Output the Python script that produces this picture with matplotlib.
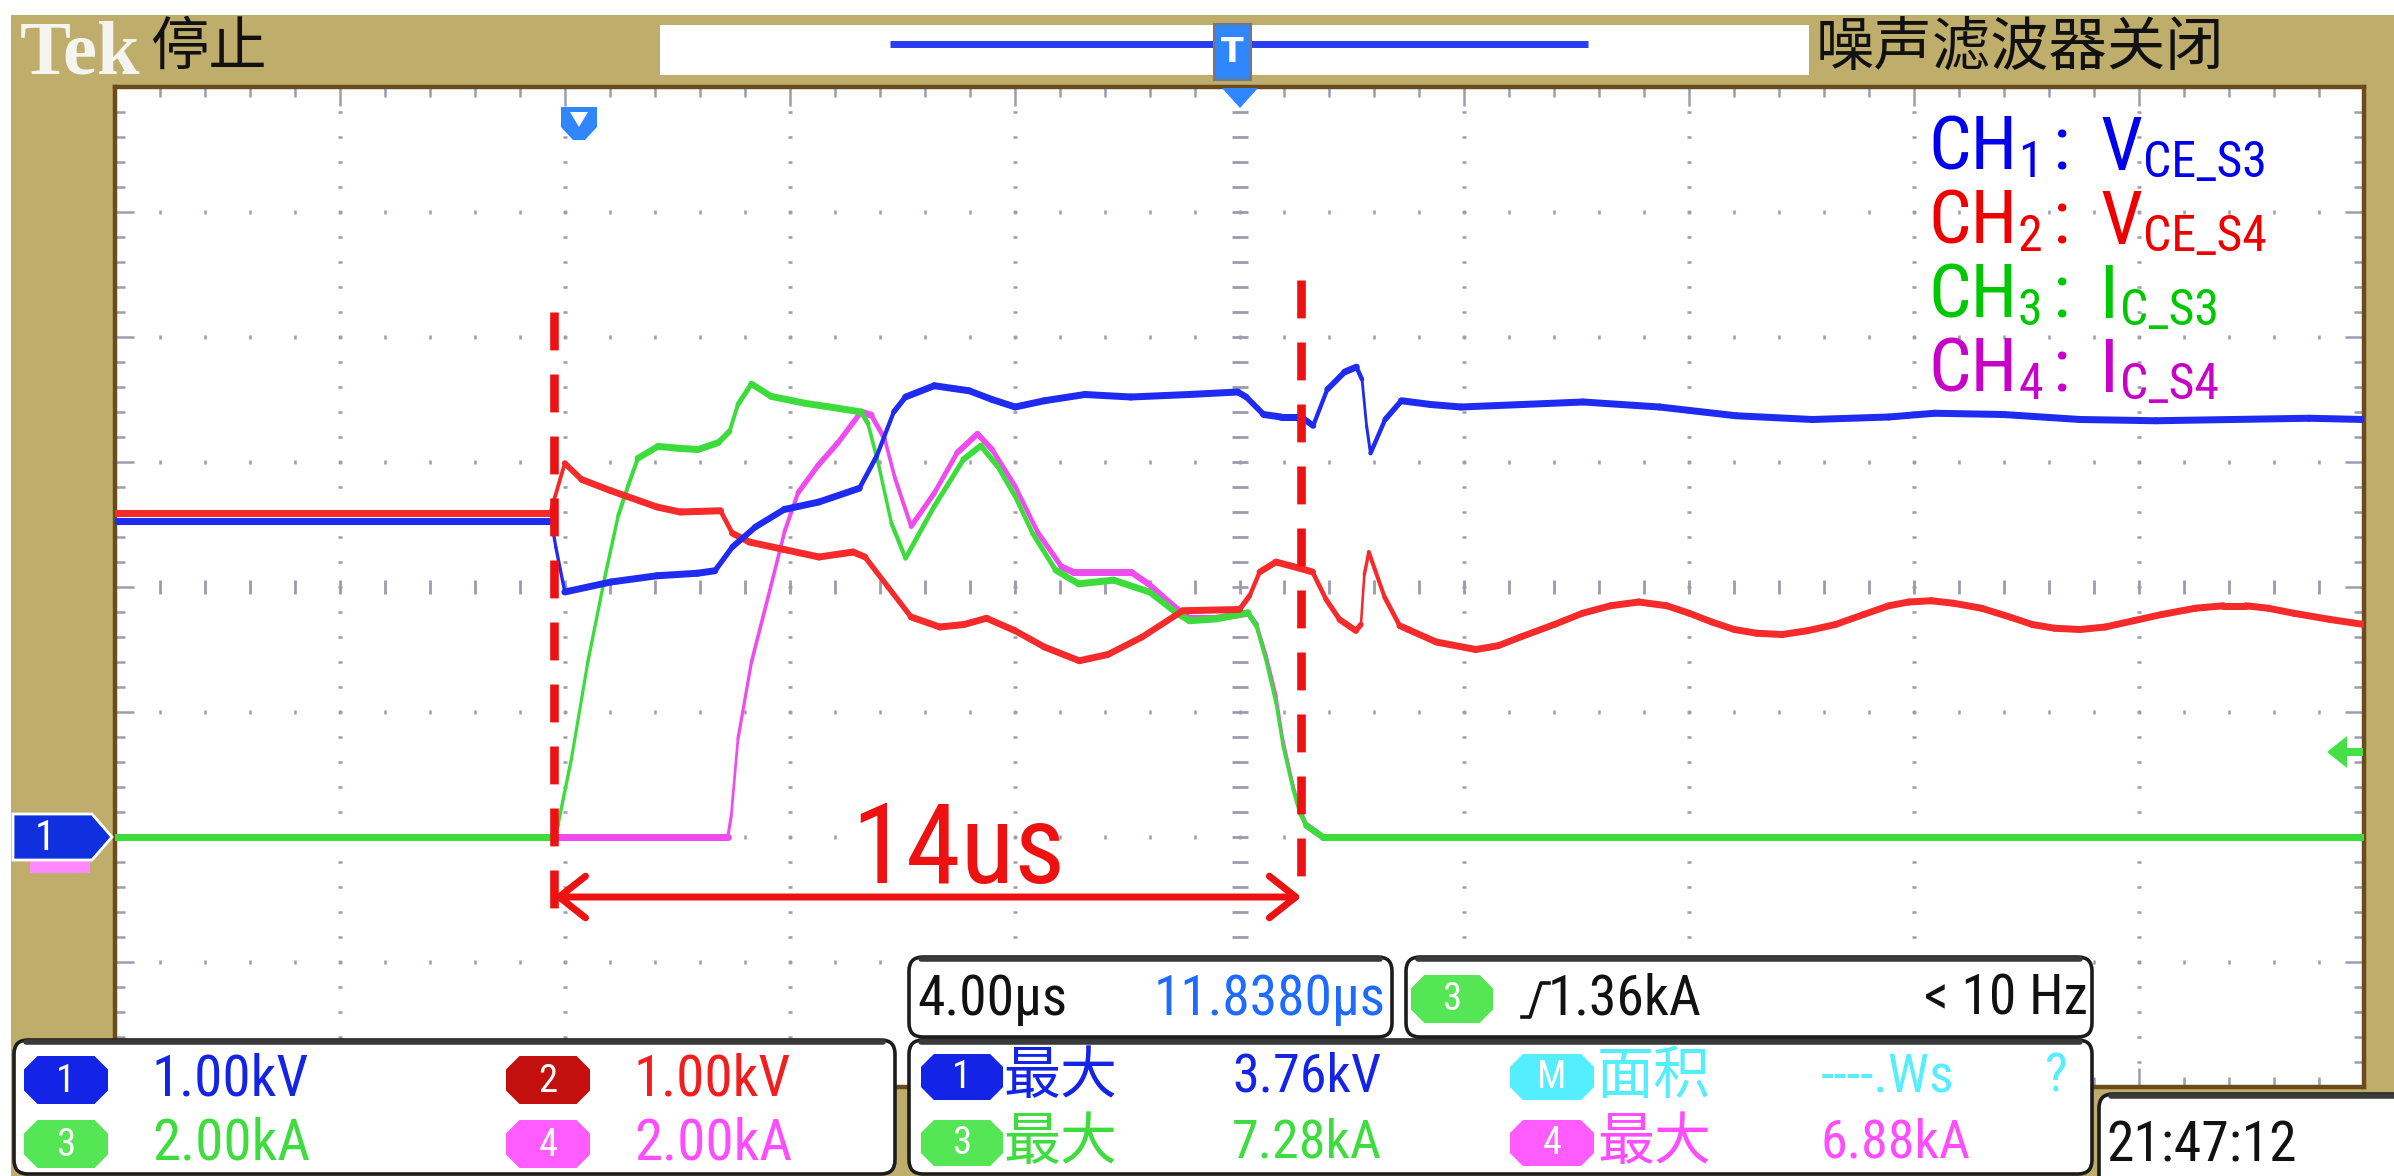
import numpy as np
import matplotlib
matplotlib.use("Agg")
import matplotlib.pyplot as plt
from matplotlib import font_manager as fm
from matplotlib.patches import Rectangle, FancyBboxPatch, Polygon
from matplotlib.collections import LineCollection

# ---------------- data ----------------
time_per_div_us = 4.0
ch_volts_per_div = [1.00, 1.00]      # CH1, CH2 (kV/div)
ch_amps_per_div = [2.00, 2.00]       # CH3, CH4 (kA/div)
ground_div = -2.0                    # ground marker position (div from centre)
trigger_level_ka = 1.36

time_ch1_us = [0.0, 7.76, 7.84, 8.0, 8.82, 9.64, 10.36, 10.67, 10.98, 11.39, 11.90, 12.52, 13.24, 13.55,
               13.85, 14.06, 14.57, 15.19, 15.60, 16.01, 16.53, 17.25, 18.07, 19.10, 19.97, 20.12, 20.43,
               20.74, 21.10, 21.31, 21.56, 21.87, 22.08, 22.18, 22.26, 22.33, 22.59, 22.88, 23.40, 23.94,
               25.03, 26.11, 27.47, 28.83, 30.19, 31.55, 32.36, 33.59, 34.95, 36.30, 37.66, 39.02, 40.0]
vce_s3_kv = [2.53, 2.53, 2.32, 1.96, 2.04, 2.09, 2.11, 2.13, 2.32, 2.48, 2.62, 2.68, 2.79, 3.05,
             3.40, 3.52, 3.61, 3.57, 3.50, 3.44, 3.49, 3.54, 3.52, 3.54, 3.56, 3.52, 3.38,
             3.36, 3.36, 3.29, 3.58, 3.72, 3.76, 3.66, 3.29, 3.07, 3.34, 3.49, 3.46, 3.44,
             3.46, 3.48, 3.44, 3.37, 3.34, 3.36, 3.39, 3.38, 3.34, 3.33, 3.34, 3.35, 3.34]

time_ch2_us = [0.0, 7.74, 8.0, 8.30, 8.82, 9.64, 10.05, 10.77, 10.98, 11.28, 11.90, 12.52, 13.13, 13.34,
               13.75, 14.16, 14.67, 15.10, 15.50, 16.01, 16.53, 17.15, 17.66, 18.27, 18.99, 20.0, 20.18,
               20.36, 20.65, 21.07, 21.30, 21.54, 21.78, 22.07, 22.16, 22.22, 22.30, 22.40, 22.58, 22.85,
               23.0, 23.5, 24.2, 24.6, 25.0, 25.6, 26.1, 26.6, 27.1, 27.6, 28.0, 28.4, 28.8, 29.2,
               29.65, 30.1, 30.6, 31.1, 31.55, 31.9, 32.3, 32.7, 33.2, 33.7, 34.1, 34.5, 34.95, 35.4,
               35.9, 36.4, 37.0, 37.5, 37.9, 38.3, 38.75, 39.4, 40.0]
vce_s4_kv = [2.59, 2.59, 2.99, 2.86, 2.77, 2.64, 2.60, 2.61, 2.43, 2.36, 2.30, 2.24, 2.28, 2.24,
             2.00, 1.76, 1.68, 1.70, 1.75, 1.65, 1.52, 1.41, 1.46, 1.60, 1.81, 1.82, 1.93,
             2.12, 2.20, 2.15, 2.12, 1.90, 1.74, 1.65, 1.70, 2.10, 2.28, 2.15, 1.92, 1.69,
             1.66, 1.56, 1.50, 1.53, 1.60, 1.70, 1.79, 1.85, 1.88, 1.85, 1.79, 1.72, 1.66, 1.63,
             1.62, 1.65, 1.70, 1.78, 1.85, 1.88, 1.89, 1.87, 1.83, 1.76, 1.70, 1.67, 1.66, 1.68,
             1.73, 1.78, 1.83, 1.85, 1.85, 1.83, 1.79, 1.74, 1.70]

time_ch3_us = [0.0, 7.76, 7.88, 8.12, 8.41, 8.71, 8.95, 9.13, 9.30, 9.66, 10.01, 10.37, 10.73, 10.93,
               11.08, 11.32, 11.67, 12.27, 12.86, 13.27, 13.39, 13.57, 13.81, 14.06, 14.57, 15.09, 15.40,
               15.70, 16.01, 16.32, 16.73, 17.14, 17.76, 18.40, 18.87, 19.11, 19.59, 20.15, 20.30, 20.47,
               20.65, 20.77, 20.95, 21.07, 21.19, 21.48, 40.0]
ic_s3_ka = [0.0, 0.0, 0.20, 1.26, 2.80, 4.15, 5.14, 5.63, 6.06, 6.25, 6.22, 6.20, 6.31, 6.49,
            6.92, 7.25, 7.05, 6.94, 6.86, 6.80, 6.62, 6.00, 5.02, 4.46, 5.29, 6.04, 6.26,
            5.93, 5.45, 4.86, 4.27, 4.05, 4.11, 3.92, 3.59, 3.46, 3.49, 3.59, 3.38, 2.84,
            2.14, 1.48, 0.78, 0.40, 0.18, 0.0, 0.0]

time_ch4_us = [0.0, 10.90, 10.96, 11.08, 11.32, 11.67, 11.91, 12.15, 12.50, 12.86, 13.27, 13.45, 13.69,
               13.87, 14.16, 14.57, 14.98, 15.34, 15.60, 16.01, 16.42, 16.84, 17.04, 18.07, 18.38, 18.89,
               19.11, 19.59, 20.15, 20.30, 20.47, 20.65, 20.77, 20.95, 21.07, 21.19, 21.48, 40.0]
ic_s4_ka = [0.0, 0.0, 0.34, 1.57, 2.80, 4.03, 4.89, 5.51, 5.94, 6.31, 6.80, 6.75, 6.37,
            5.75, 4.97, 5.50, 6.15, 6.45, 6.20, 5.61, 4.86, 4.32, 4.24, 4.24, 4.05, 3.65,
            3.50, 3.50, 3.58, 3.40, 2.90, 2.25, 1.55, 0.82, 0.42, 0.19, 0.0, 0.0]

span_start_us = 7.8
span_end_us = 21.1
span_label = "14us"

legend_names = [("1", "CE_S3", "V"), ("2", "CE_S4", "V"), ("3", "C_S3", "I"), ("4", "C_S4", "I")]
scale_labels = ["1.00kV", "1.00kV", "2.00kA", "2.00kA"]
meas_values = ["3.76kV", "7.28kA", "6.88kA"]
timebase_label = "4.00µs"
trig_pos_label = "11.8380µs"
trig_level_label = "1.36kA"
trig_freq_label = "< 10 Hz"
clock_label = "21:47:12"

# ---------------- style ----------------
W, H = 2394, 1176
GX0, GX1, GY0, GY1 = 115, 2364, 87, 1087
TAN = "#bfad6c"
BROWN = "#6b4a1d"
GRID = "#9c9cae"
C_BLUE, C_RED, C_GREEN, C_MAG = "#1f2bf0", "#f52a2a", "#3ddc3d", "#ee4cee"
CJK = "Noto Sans CJK SC"

names = {f.name for f in fm.fontManager.ttflist}
NARROW = None
for n in ["Liberation Sans Narrow", "Roboto Condensed", "Open Sans Condensed", "Noto Sans Condensed"]:
    if n in names:
        NARROW = n
        break
if NARROW is None:
    NARROW = "Liberation Sans"
    NS = 0.85
else:
    NS = 1.0

plt.rcParams["font.family"] = ["DejaVu Sans"]

fig = plt.figure(figsize=(W / 100, H / 100), dpi=100)
fig.patch.set_facecolor("white")

# background layer
bg = fig.add_axes([0, 0, 1, 1], zorder=0)
bg.set_xlim(0, W); bg.set_ylim(H, 0); bg.axis("off")
bg.add_patch(Rectangle((11, 15), W - 11, H - 15, facecolor=TAN, edgecolor="none"))
bg.add_patch(Rectangle((660, 25), 1149, 50, facecolor="white", edgecolor="none"))
bg.plot([890, 1588], [44, 44], color="#2a3cf0", lw=5, solid_capstyle="butt")
bg.text(20, 74, "Tek", family="Liberation Serif", fontweight="bold", fontsize=55, color="#f6f4ee",
        va="baseline")
bg.text(150, 48, "停止", family=[CJK], fontsize=42, color="#111111", va="center")
bg.text(1816, 48, "噪声滤波器关闭", family=[CJK], fontsize=42, color="#111111", va="center")

# graticule
ax = fig.add_axes([GX0 / W, 1 - GY1 / H, (GX1 - GX0) / W, (GY1 - GY0) / H], zorder=1)
tmax = 10 * time_per_div_us
ax.set_xlim(0, tmax); ax.set_ylim(-4, 4)
ax.set_xticks([]); ax.set_yticks([])
ax.set_facecolor("white")
for s in ax.spines.values():
    s.set_color(BROWN); s.set_linewidth(3.2)

px_per_us = (GX1 - GX0) / tmax
px_per_div = (GY1 - GY0) / 8.0
xs_minor = np.arange(0, tmax + 1e-6, time_per_div_us / 5)
ys_minor = np.arange(-4, 4 + 1e-6, 0.2)
for k in range(1, 10):
    if k == 5:
        continue
    ax.plot(np.full(ys_minor.size, k * time_per_div_us), ys_minor, ls="none", marker="_", ms=3.5, mew=1.8,
            color=GRID, zorder=1)
for j in (-3, -2, -1, 1, 2, 3):
    ax.plot(xs_minor, np.full(xs_minor.size, j), ls="none", marker="|", ms=3.2, mew=1.8, color=GRID, zorder=1)
ax.plot(xs_minor, np.zeros(xs_minor.size), ls="none", marker="|", ms=10, mew=2.0, color=GRID, zorder=1)
ax.plot(np.full(ys_minor.size, tmax / 2), ys_minor, ls="none", marker="_", ms=11, mew=2.0, color=GRID, zorder=1)
# edge ticks
is_major_y = np.isclose(ys_minor, np.round(ys_minor))
is_major_x = np.isclose(xs_minor / time_per_div_us, np.round(xs_minor / time_per_div_us))
for (sel, ms) in ((~is_major_y, 7), (is_major_y, 14)):
    ax.plot(np.zeros(sel.sum()), ys_minor[sel], ls="none", marker=1, ms=ms, mew=1.8, color=GRID, clip_on=False)
    ax.plot(np.full(sel.sum(), tmax), ys_minor[sel], ls="none", marker=0, ms=ms, mew=1.8, color=GRID,
            clip_on=False)
for (sel, ms) in ((~is_major_x, 7), (is_major_x, 14)):
    ax.plot(xs_minor[sel], np.full(sel.sum(), 4), ls="none", marker=3, ms=ms, mew=1.8, color=GRID, clip_on=False)
    ax.plot(xs_minor[sel], np.full(sel.sum(), -4), ls="none", marker=2, ms=ms, mew=1.8, color=GRID,
            clip_on=False)


def trace(t, v, per_div, color, z):
    t = np.asarray(t, float)
    y = np.asarray(v, float) / per_div + ground_div
    pts = np.column_stack([t, y])
    segs = np.stack([pts[:-1], pts[1:]], axis=1)
    dxp = np.diff(t) * px_per_us
    dyp = np.diff(y) * px_per_div
    frac = dxp / (np.hypot(dxp, dyp) + 1e-9)
    width_px = 2.0 + 5.0 * frac ** 0.8
    lc = LineCollection(segs, linewidths=width_px * 0.72, colors=color, capstyle="round",
                        joinstyle="round", zorder=z)
    ax.add_collection(lc)


trace(time_ch4_us, ic_s4_ka, ch_amps_per_div[1], C_MAG, 3)
trace(time_ch3_us, ic_s3_ka, ch_amps_per_div[0], C_GREEN, 4)
trace(time_ch2_us, vce_s4_kv, ch_volts_per_div[1], C_RED, 5)
trace(time_ch1_us, vce_s3_kv, ch_volts_per_div[0], C_BLUE, 6)

# span annotation
RED = "#ee1111"
ax.plot([span_start_us, span_start_us], [2.2, -2.66], color=RED, lw=6.2, ls=(0, (4.4, 2.8)), zorder=8)
ax.plot([span_end_us, span_end_us], [2.46, -2.48], color=RED, lw=6.2, ls=(0, (4.4, 2.8)), zorder=8)
ax.annotate("", xy=(span_start_us, -2.48), xytext=(span_end_us, -2.48),
            arrowprops=dict(arrowstyle="<->,head_length=1.9,head_width=1.5", color=RED, lw=5,
                            shrinkA=0, shrinkB=0), zorder=8)
ax.text(15.0, -2.37, span_label, color=RED, fontsize=80 * NS, family=[NARROW],
        ha="center", va="baseline", zorder=8)

# foreground layer
fg = fig.add_axes([0, 0, 1, 1], zorder=2)
fg.set_xlim(0, W); fg.set_ylim(H, 0); fg.axis("off")
r = fig.canvas.get_renderer()


def ypx(div):
    return GY0 + (4 - div) * px_per_div


# legend (rich text)
leg_colors = ["#0000ee", "#ee0000", "#00c800", "#c800c8"]
for i, (num, sub, sym) in enumerate(legend_names):
    x = 1928
    yb = 170 + i * 74
    for txt, size, dy, gap in (("CH", 54, 0, 1), (num, 36, 7, 10), (":", 54, 0, 30), (sym, 54, 0, 1),
                               (sub, 36, 7, 0)):
        tt = fg.text(x, yb + dy, txt, fontsize=size * NS, color=leg_colors[i], family=[NARROW, CJK],
                     va="baseline", ha="left", zorder=10)
        x += tt.get_window_extent(renderer=r).width + gap

# channel ground marker "1" (with CH4 marker peeking below)
gy = ypx(ground_div)
fg.add_patch(Polygon([(30, gy + 10), (90, gy + 10), (90, gy + 36), (30, gy + 36)],
                     closed=True, facecolor="#ff88ff", edgecolor="none", zorder=5))
fg.add_patch(Polygon([(13, gy - 23), (92, gy - 23), (112, gy), (92, gy + 23), (13, gy + 23)],
                     closed=True, facecolor="#1030e0", edgecolor="white", lw=2, zorder=6))
fg.text(45, gy + 1, "1", color="white", fontsize=30 * NS, family=[NARROW], ha="center", va="center", zorder=7)

# trigger level arrow (right edge)
ty = ypx(trigger_level_ka / ch_amps_per_div[0] + ground_div)
fg.add_patch(Polygon([(2327, ty), (2347, ty - 16), (2347, ty - 4), (2363, ty - 4), (2363, ty + 4),
                      (2347, ty + 4), (2347, ty + 16)], closed=True, facecolor="#44e044",
                     edgecolor="none", zorder=6))

# cursor marker (top-left)
fg.add_patch(Polygon([(561, 107), (597, 107), (597, 127), (585, 140), (573, 140), (561, 127)],
                     closed=True, facecolor="#2f86ff", edgecolor="none", zorder=6))
fg.add_patch(Polygon([(570, 112), (588, 112), (579, 127)], closed=True, facecolor="white", zorder=7))
# trigger position marker (top-centre)
fg.add_patch(Polygon([(1214, 24), (1251, 24), (1251, 80), (1214, 80)], closed=True,
                     facecolor="#2f86ff", edgecolor="#777777", lw=1.5, zorder=6))
fg.text(1232, 52, "T", color="white", fontsize=24, family="DejaVu Sans", fontweight="bold",
        ha="center", va="center", zorder=7)
fg.add_patch(Polygon([(1222, 88), (1258, 88), (1240, 108)], closed=True, facecolor="#2f86ff", zorder=6))


# ---------------- bottom panels ----------------
def box(x, y, w, h):
    fg.add_patch(FancyBboxPatch((x, y), w, h, boxstyle="round,pad=0,rounding_size=14",
                                facecolor="white", edgecolor="#1c1c1c", lw=2.6, zorder=4))
    fg.plot([x + 12, x + w - 12], [y + 2, y + 2], color="#3a3a3a", lw=4, zorder=4.5,
            solid_capstyle="round")


def badge(x0, y0, w, h, fc, label, size=28):
    c = h * 0.28
    pts = [(x0 + c, y0), (x0 + w - c, y0), (x0 + w, y0 + c), (x0 + w, y0 + h - c),
           (x0 + w - c, y0 + h), (x0 + c, y0 + h), (x0, y0 + h - c), (x0, y0 + c)]
    fg.add_patch(Polygon(pts, closed=True, facecolor=fc, edgecolor="none", zorder=5))
    fg.text(x0 + w / 2, y0 + h / 2 + 1, label, color="white", fontsize=size * NS, family=[NARROW],
            ha="center", va="center", zorder=6)


def ntext(x, y, s, color, size=41, ha="left"):
    fg.text(x, y, s, color=color, fontsize=size * NS, family=[NARROW], ha=ha, va="center", zorder=6)


def ctext(x, y, s, color, size=41):
    fg.text(x, y, s, color=color, fontsize=size, family=[CJK], ha="left", va="center", zorder=6)


P_BLUE, P_DRED, P_RED = "#1424e6", "#c40f0f", "#f21e1e"
P_GREEN, P_MAG, P_CYAN = "#55e655", "#ff5cff", "#55eeff"
T_GREEN, T_MAG, T_BLUE2 = "#3fdc3f", "#ff4cff", "#1f6bff"

# channel scale panel
box(14, 1040, 881, 134)
badge(24, 1056, 84, 48, P_BLUE, "1")
ntext(152, 1080, scale_labels[0], P_BLUE)
badge(506, 1056, 84, 48, P_DRED, "2")
ntext(634, 1080, scale_labels[1], P_RED)
badge(24, 1120, 84, 48, P_GREEN, "3")
ntext(152, 1144, scale_labels[2], T_GREEN)
badge(506, 1120, 84, 48, P_MAG, "4")
ntext(634, 1144, scale_labels[3], T_MAG)

# timebase panel
box(909, 957, 483, 80)
ntext(917, 999, timebase_label, "#111111", size=40)
ntext(1386, 999, trig_pos_label, T_BLUE2, size=40, ha="right")

# trigger panel
box(1406, 957, 686, 80)
badge(1411, 975, 82, 48, P_GREEN, "3")
fg.plot([1522, 1530, 1541, 1549], [1017, 1017, 983, 983], color="#111111", lw=2.6, zorder=6)
ntext(1548, 999, trig_level_label, "#111111", size=40)
ntext(2088, 999, trig_freq_label, "#111111", size=40, ha="right")

# measurement panel
box(909, 1040, 1183, 134)
badge(921, 1054, 82, 46, P_BLUE, "1")
ctext(1003, 1077, "最大", P_BLUE)
ntext(1232, 1077, meas_values[0], P_BLUE, size=39)
badge(1510, 1054, 84, 46, P_CYAN, "M")
ctext(1597, 1077, "面积", P_CYAN)
ntext(1821, 1077, "----.Ws", P_CYAN, size=39)
ntext(2045, 1077, "?", P_CYAN, size=39)
badge(921, 1120, 82, 46, P_GREEN, "3")
ctext(1003, 1143, "最大", T_GREEN)
ntext(1232, 1143, meas_values[1], T_GREEN, size=39)
badge(1510, 1120, 84, 46, P_MAG, "4")
ctext(1597, 1143, "最大", T_MAG)
ntext(1821, 1143, meas_values[2], T_MAG, size=39)

# clock panel
box(2099, 1094, 320, 100)
ntext(2106, 1146, clock_label, "#111111", size=40)

fig.savefig("out.png", dpi=100, facecolor="white")
